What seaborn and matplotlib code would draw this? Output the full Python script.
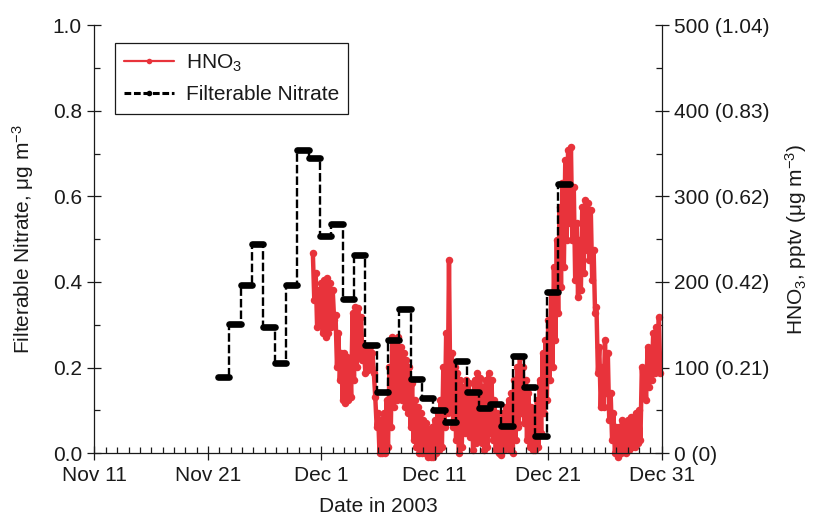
import matplotlib
matplotlib.use("Agg")
import matplotlib.pyplot as plt
import matplotlib.dates as mdates
from matplotlib.lines import Line2D
import numpy as np
import pandas as pd
import seaborn as sns

# Daily filter samples of particulate (filterable) nitrate, ug m-3; each filter starts ~21:00
nitrate_start = "2003-11-21 21:00"
nitrate_ugm3 = [0.177, 0.303, 0.392, 0.489, 0.296, 0.211, 0.393, 0.709, 0.689, 0.508,
                0.535, 0.361, 0.462, 0.252, 0.143, 0.265, 0.337, 0.174, 0.128, 0.100,
                0.073, 0.215, 0.143, 0.106, 0.114, 0.064, 0.228, 0.155, 0.040, 0.376,
                0.629]

# Gas-phase HNO3 (pptv), 3-hourly readings
hno3_start = "2003-11-30 06:00"
hno3_pptv = [234, 179, 211, 147, 191, 152, 199, 140, 202, 136, 205, 140, 199, 147, 191, 156,
             162, 101, 140, 86, 117, 62, 117, 59, 112, 62, 109, 66, 164, 86, 171, 101,
             170, 112, 159, 109, 124, 94, 121, 97, 124, 101, 117, 94, 66, 31, 47, 0,
             39, 0, 47, 0, 62, 7, 101, 31, 136, 54, 132, 62, 136, 66, 124, 62,
             117, 54, 109, 47, 101, 31, 82, 16, 62, 7, 54, 0, 47, 0, 39, 0,
             35, -4, 27, -4, 31, -4, 39, 0, 47, 4, 62, 7, 101, 31, 140, 47,
             226, 54, 117, 31, 101, 16, 94, 0, 86, 7, 77, 24, 86, 31, 82, 19,
             70, 4, 86, 12, 94, 16, 88, 12, 77, 4, 86, 7, 94, 24, 86, 16,
             62, 4, 47, 0, 39, -2, 47, 4, 54, 7, 62, 4, 70, 0, 86, 16,
             101, 31, 112, 47, 101, 35, 86, 16, 70, 7, 54, 4, 47, 4, 62, 7,
             86, 24, 117, 47, 132, 62, 156, 86, 187, 101, 218, 132, 249, 164, 288, 194,
             316, 218, 342, 249, 354, 269, 358, 249, 311, 202, 269, 183, 249, 191, 288, 211,
             296, 237, 292, 226, 284, 202, 237, 164, 171, 94, 124, 54, 101, 54, 132, 70,
             117, 39, 70, 16, 47, 0, 31, -4, 31, 0, 39, 4, 35, 0, 39, 4,
             42, 7, 39, 7, 47, 12, 51, 16, 101, 66, 94, 62, 124, 77, 117, 86,
             140, 94, 147, 101, 159, 94]

tick_dates = ["2003-11-11", "2003-11-21", "2003-12-01", "2003-12-11", "2003-12-21", "2003-12-31"]
tick_labels = ["Nov 11", "Nov 21", "Dec 1", "Dec 11", "Dec 21", "Dec 31"]
left_ticks = [0.0, 0.2, 0.4, 0.6, 0.8, 1.0]
left_tick_labels = ["0.0", "0.2", "0.4", "0.6", "0.8", "1.0"]
right_ticks = [0, 100, 200, 300, 400, 500]
right_tick_labels = ["0 (0)", "100 (0.21)", "200 (0.42)", "300 (0.62)", "400 (0.83)", "500 (1.04)"]

RED = "#e8333b"
INK = "#1a1a1a"

sns.set_theme(style="ticks")
plt.rcParams["font.family"] = ["Liberation Sans", "DejaVu Sans"]
plt.rcParams["mathtext.fontset"] = "custom"
plt.rcParams["mathtext.rm"] = "Liberation Sans"
plt.rcParams["mathtext.it"] = "Liberation Sans:italic"
plt.rcParams["mathtext.bf"] = "Liberation Sans:bold"
plt.rcParams["text.color"] = INK
plt.rcParams["axes.labelcolor"] = INK
plt.rcParams["xtick.color"] = INK
plt.rcParams["ytick.color"] = INK
FS = 15

# Tables for plotting
step_edges = pd.date_range(nitrate_start, periods=len(nitrate_ugm3) + 1, freq="D")
nitrate_df = pd.DataFrame({"time": step_edges,
                           "nitrate": nitrate_ugm3 + [nitrate_ugm3[-1]]})
hno3_df = pd.DataFrame({"time": pd.date_range(hno3_start, periods=len(hno3_pptv), freq="3h"),
                        "hno3": hno3_pptv})

fig = plt.figure(figsize=(8.13, 5.18), dpi=100)
ax = fig.add_axes([0.1162, 0.1249, 0.8139 - 0.1162, 0.9517 - 0.1249])
ax2 = ax.twinx()

# HNO3 on the right-hand axis
sns.lineplot(data=hno3_df, x="time", y="hno3", ax=ax2, color=RED, lw=3.2,
             marker="o", markersize=5.4, markeredgewidth=0, estimator=None,
             sort=False, clip_on=False, zorder=2)

# Filterable nitrate: dashed step trace plus heavy bars for each filter period
sns.lineplot(data=nitrate_df, x="time", y="nitrate", ax=ax, color="black", lw=1.7,
             drawstyle="steps-post", linestyle=(0, (3.6, 1.3)), estimator=None,
             sort=False, zorder=3)
bars = ax.hlines(nitrate_ugm3, mdates.date2num(step_edges[:-1]), mdates.date2num(step_edges[1:]),
                 colors="black", lw=4.8, zorder=4)
bars.set_capstyle("round")

# nitrate axis drawn above HNO3 axis
ax.set_zorder(ax2.get_zorder() + 1)
ax.patch.set_visible(False)

# x axis
ax.set_xlim(pd.Timestamp(tick_dates[0]), pd.Timestamp(tick_dates[-1]))
ax.set_xticks(mdates.date2num(pd.to_datetime(tick_dates)))
ax.set_xticklabels(tick_labels, fontsize=FS)
ax.xaxis.set_minor_locator(mdates.DayLocator())
ax.set_xlabel("Date in 2003", fontsize=FS, labelpad=9)

# left axis
ax.set_ylim(0, 1.0)
ax.set_yticks(left_ticks)
ax.set_yticklabels(left_tick_labels, fontsize=FS)
ax.set_yticks(np.arange(0.1, 1.0, 0.2), minor=True)
ax.set_ylabel("Filterable Nitrate, μg m$^{-3}$", fontsize=FS, labelpad=12)

# right axis
ax2.set_ylim(0, 500)
ax2.set_yticks(right_ticks)
ax2.set_yticklabels(right_tick_labels, fontsize=FS)
ax2.set_yticks(np.arange(50, 500, 100), minor=True)
ax2.set_ylabel("HNO$_3$, pptv (μg m$^{-3}$)", fontsize=FS, labelpad=10)
ax2.set_xlabel("")

for a in (ax, ax2):
    a.tick_params(which="major", direction="inout", length=10, width=0.9, pad=4)
    a.tick_params(which="minor", direction="in", length=4.5, width=0.9)
    a.spines["top"].set_visible(False)
    for s in a.spines.values():
        s.set_linewidth(0.9)
        s.set_color(INK)
ax.spines["right"].set_visible(False)
ax2.spines["left"].set_visible(False)
ax2.spines["bottom"].set_visible(False)
ax.tick_params(axis="y", which="both", right=False)
ax2.tick_params(axis="y", which="both", left=False)

handles = [
    Line2D([], [], color=RED, lw=1.6, marker="o", markersize=4, markeredgewidth=0),
    Line2D([], [], color="black", lw=2.2, linestyle=(0, (2.2, 0.9)), marker="o",
           markersize=4, markeredgewidth=0),
]
leg = ax.legend(handles, ["HNO$_3$", "Filterable Nitrate"], loc="upper left",
                bbox_to_anchor=(0.036, 0.958), borderaxespad=0, fontsize=FS,
                frameon=True, fancybox=False, edgecolor=INK, framealpha=1,
                handlelength=2.4, handletextpad=0.55, labelspacing=0.55, borderpad=0.45)
leg.get_frame().set_linewidth(0.9)

fig.savefig("out.png", dpi=100)
